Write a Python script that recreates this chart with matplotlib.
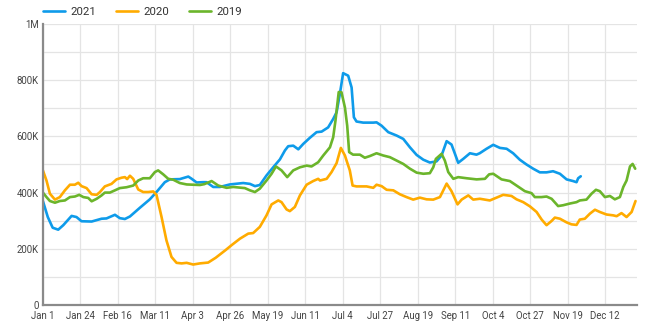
import numpy as np
import matplotlib
matplotlib.use('Agg')
import matplotlib.pyplot as plt

plt.rcParams['font.family'] = ['Roboto', 'DejaVu Sans']

# daily series, sampled at day-of-year (Jan 1 = 0), values in thousands
days_2021 = [0, 3, 6, 9.4, 12.5, 17.6, 20.6, 23.7, 29.9, 36, 39, 44.2, 47.2, 50.3, 53.4, 59.5,
             65.6, 69.7, 74.8, 77.9, 84, 89.2, 91.3, 94.3, 98.4, 100.4, 104.5, 108.6, 114.7,
             122.9, 127, 130.1, 133.1, 137.2, 141.3, 145.4, 148.5, 150.5, 153.6, 156.7, 159.7,
             163.8, 167.9, 171, 175, 178.1, 180.2, 182.2, 184.2, 187.3, 189.4, 190.8, 192.4,
             196.5, 202.7, 204.7, 207.8, 211.9, 217, 221.1, 225.2, 229.3, 233.4, 237.4, 241.5,
             244.6, 247.7, 250.7, 252.8, 254.8, 257.9, 262, 266, 268, 272.2, 276.3, 280.4,
             284.5, 288.5, 292.6, 296.7, 300.8, 304.9, 309, 313, 317.2, 321.3, 325.3, 327.4,
             328.4, 330]
vals_2021 = [370, 313, 275, 268, 284, 317, 313, 298, 297, 307, 308, 321, 309, 306, 315, 346,
             376, 402, 437, 447, 448, 457, 449, 436, 437, 437, 420, 420, 429,
             434, 431, 423, 427, 461, 490, 518, 550, 565, 567, 554, 573,
             595, 615, 617, 632, 662, 686, 751, 825, 816, 774, 668, 653,
             649, 649, 650, 638, 615, 603, 591, 561, 534, 517, 507, 511,
             532, 583, 571, 538, 506, 520, 540, 535, 540, 556, 570, 559,
             556, 540, 517, 500, 485, 472, 472, 476, 467, 447, 441, 437,
             451, 458]

days_2020 = [0, 2.2, 4.3, 7.4, 10.4, 13.5, 16.6, 19.6, 21.7, 23.7, 26.8, 29.9, 33, 35, 38, 42.1,
             45.2, 48.3, 50.3, 51.7, 53.4, 55.4, 58.5, 61.5, 64.6, 67.7, 69.7, 72.8, 75.8, 78.9,
             82, 85.1, 88.2, 92.2, 96.3, 101.4, 106, 112, 116, 120.9, 126, 129, 133.1, 137.2,
             140.3, 144.4, 146.4, 149.5, 151.5, 154.6, 157.7, 161.8, 165.8, 168.9, 170,
             174.1, 177.1, 180.2, 182.8, 185.3, 186.3, 188.3, 190, 192.4, 198.6, 202.7, 204.7,
             207.8, 210.9, 215, 219, 223.1, 227.2, 231.3, 235.4, 239.5, 243.6, 247.7, 250.7,
             254.4, 256.9, 261, 264, 268.1, 274.2, 278.3, 282.4, 287.5, 290.6, 294.7, 298.8,
             302.9, 306, 309, 312.1, 314.1, 317.2, 321.3, 324.3, 327.4, 329.4, 332.5, 335.6,
             338.7, 341.7, 345.8, 349.9, 352, 355, 358.1, 361.2, 363.6]
vals_2020 = [479, 443, 396, 375, 384, 408, 428, 428, 435, 423, 416, 394, 392, 402, 422, 431,
             447, 453, 455, 448, 460, 449, 411, 402, 402, 404, 392, 313, 230, 171,
             150, 148, 150, 144, 148, 151, 168, 195, 214, 236, 254, 256, 278, 319,
             358, 372, 366, 340, 334, 349, 390, 428, 441, 449, 443,
             449, 473, 505, 559, 532, 514, 479, 425, 422, 422, 417, 428,
             423, 410, 408, 394, 384, 375, 382, 376, 375, 384, 432, 405,
             358, 375, 390, 375, 378, 372, 382, 392, 388, 376, 366, 351,
             331, 304, 284, 299, 311, 307, 294, 287, 285, 304, 307, 325,
             339, 331, 322, 319, 316, 327, 313, 331, 370]

days_2019 = [0, 2.2, 4.3, 7.4, 10.4, 13.5, 16.6, 19.6, 22.3, 24.8, 27.8, 29.9, 33, 36, 38, 41.1,
             44.2, 47.2, 51.3, 55.4, 58.5, 61.5, 65.6, 68.7, 70.7, 73.8, 76.9, 79.9, 84, 88.2,
             92.2, 96.3, 99, 103.5, 107.6, 112.7, 116.8, 123.9, 127, 130.1, 133.1, 137.2,
             140.3, 143, 146.4, 149.9, 153.6, 157.7, 161.8, 164.8, 168.9, 172, 176.1, 178.1,
             179.5, 181.5, 183.2, 185.3, 186.7, 187.9, 190.3, 194.5, 197.5, 200.6, 204.7,
             208.8, 212.9, 217, 221.1, 225.2, 229.3, 233.4, 237.4, 239.5, 241.1, 244.6, 246.6,
             248.7, 251.8, 254.8, 260, 266.1, 271.2, 273.8, 276.3, 281.4, 286.5, 290.6, 295.7,
             299.8, 301.8, 305.9, 309, 312.1, 316.1, 319.2, 323.3, 327.4, 329.4, 333.5, 336.6,
             339.3, 341.7, 344.8, 347.9, 350.9, 354, 356.1, 358.1, 360.2, 361.8, 363.4]
vals_2019 = [400, 384, 370, 364, 370, 372, 384, 386, 392, 384, 381, 369, 378, 390, 400, 400,
             408, 416, 419, 425, 443, 451, 451, 473, 479, 465, 449, 446, 434, 429,
             428, 427, 430, 441, 425, 417, 420, 416, 408, 402, 414, 443,
             467, 493, 479, 455, 479, 490, 496, 493, 508, 532, 561, 597,
             656, 758, 757, 703, 638, 544, 535, 535, 524, 530, 540,
             532, 526, 514, 502, 485, 471, 467, 469, 490, 520, 538, 514,
             473, 449, 455, 451, 447, 449, 465, 467, 447, 441, 425, 405,
             398, 384, 384, 386, 378, 352, 355, 361, 366, 372, 375, 396,
             410, 405, 384, 388, 376, 384, 420, 443, 493, 502, 485]

tick_days = list(range(0, 346, 23))
tick_labels = ['Jan 1', 'Jan 24', 'Feb 16', 'Mar 11', 'Apr 3', 'Apr 26', 'May 19', 'Jun 11',
               'Jul 4', 'Jul 27', 'Aug 19', 'Sep 11', 'Oct 4', 'Oct 27', 'Nov 19', 'Dec 12']
y_ticks = [0, 200, 400, 600, 800, 1000]
y_labels = ['0', '200K', '400K', '600K', '800K', '1M']

fig = plt.figure(figsize=(6.5, 3.36), dpi=100)
ax = fig.add_axes([0.066, 0.0923, 0.914, 0.8363])

ax.plot(days_2021, vals_2021, color='#0E9BEA', lw=1.9, label='2021', solid_capstyle='round')
ax.plot(days_2020, vals_2020, color='#FFAB00', lw=1.9, label='2020', solid_capstyle='round')
ax.plot(days_2019, vals_2019, color='#6BB52B', lw=1.9, label='2019', solid_capstyle='round')

ax.set_xlim(0, 364.5)
ax.set_ylim(0, 1000)
ax.set_xticks(tick_days)
ax.set_xticklabels(tick_labels)
ax.set_yticks(y_ticks)
ax.set_yticklabels(y_labels)
ax.set_yticks(range(100, 1000, 200), minor=True)
ax.tick_params(which='both', length=0, labelsize=6.9, colors='#444444', pad=3)
ax.tick_params(axis='x', pad=4)
ax.grid(True, which='both', color='#e4e4e4', lw=0.9)
ax.set_axisbelow(True)

for s in ['top', 'right']:
    ax.spines[s].set_visible(False)
for s in ['left', 'bottom']:
    ax.spines[s].set_color('#8a8a8a')
    ax.spines[s].set_linewidth(1.6)

# legend row sits just above the plot, flush with the left spine
leg = ax.legend(loc='center left', bbox_to_anchor=(0.0, 1.043), ncol=3, frameon=False,
                borderpad=0, borderaxespad=0, fontsize=8.2, handlelength=1.95,
                handletextpad=0.45, columnspacing=1.75)
for t in leg.get_texts():
    t.set_color('#333333')

fig.savefig('out.png', dpi=100)
